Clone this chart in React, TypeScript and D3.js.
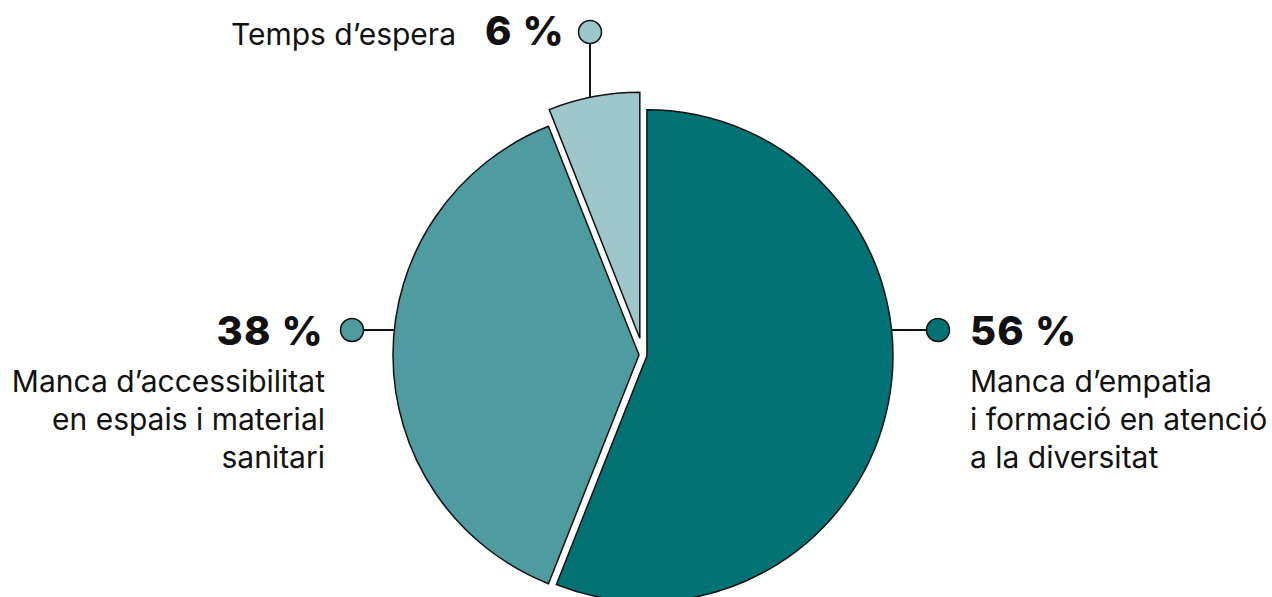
import React, { useEffect, useRef } from 'react';
import * as d3 from 'd3';

// Chart data
const categories = ['Manca d’empatia', 'Manca d’accessibilitat', 'Temps d’espera'];
const values = [56, 38, 6];
const labelLines = [
  ['Manca d’empatia', 'i formació en atenció', 'a la diversitat'],
  ['Manca d’accessibilitat', 'en espais i material', 'sanitari'],
  ['Temps d’espera'],
];
const colors = ['#027275', '#4f9ca0', '#9dc7ca'];
const explode = [4, 4, 17];

const W = 1272;
const H = 597;

const App: React.FC = () => {
  const svgRef = useRef<SVGSVGElement>(null);

  useEffect(() => {
    if (!svgRef.current) return;
    const svg = d3.select(svgRef.current);
    svg.selectAll('*').remove();

    const cx = 643;
    const cy = 355;
    const r = 246;

    const pie = d3.pie<number>().sort(null).value(d => d);
    const arcs = pie(values);
    const arc = d3.arc<d3.PieArcDatum<number>>().innerRadius(0).outerRadius(r);

    const g = svg.append('g').attr('transform', `translate(${cx},${cy})`);

    // offset of each slice along its bisector
    const offsets = arcs.map((a, i) => {
      const mid = (a.startAngle + a.endAngle) / 2;
      return [Math.sin(mid) * explode[i], -Math.cos(mid) * explode[i]];
    });

    g.selectAll('path.slice')
      .data(arcs)
      .join('path')
      .attr('class', 'slice')
      .attr('transform', (d, i) => `translate(${offsets[i][0]},${offsets[i][1]})`)
      .attr('d', arc)
      .attr('fill', (d, i) => colors[i])
      .attr('stroke', '#111')
      .attr('stroke-width', 1.5)
      .attr('stroke-linejoin', 'miter');

    const font = 'Inter, "Noto Sans", sans-serif';
    const numSize = 40;
    const numSpacing = 1.2;
    const txtSize = 30;
    const dotR = 11.5;

    // helper: x on slice circle at a given y (right or left side)
    const edgeX = (i: number, y: number, side: 1 | -1) => {
      const dy = y - cy - offsets[i][1];
      return cx + offsets[i][0] + side * Math.sqrt(r * r - dy * dy);
    };

    // 56 % - right
    const ly = 330;
    const rx0 = edgeX(0, ly, 1);
    const rDot = 938;
    svg.append('line')
      .attr('x1', rx0).attr('x2', rDot - dotR).attr('y1', ly).attr('y2', ly)
      .attr('stroke', '#111').attr('stroke-width', 2);
    svg.append('circle')
      .attr('cx', rDot).attr('cy', ly).attr('r', dotR)
      .attr('fill', colors[0]).attr('stroke', '#111').attr('stroke-width', 1.5);
    svg.append('text')
      .attr('x', 970).attr('y', 345)
      .attr('font-family', font).attr('font-weight', 800).attr('font-size', numSize)
      .attr('letter-spacing', numSpacing)
      .attr('fill', '#111')
      .text(`${values[0]} %`);
    svg.append('text')
      .attr('font-family', font).attr('font-size', txtSize).attr('fill', '#111')
      .selectAll('tspan')
      .data(labelLines[0])
      .join('tspan')
      .attr('x', 970)
      .attr('y', (d, i) => 392 + i * 38)
      .text(d => d);

    // 38 % - left
    const lx0 = edgeX(1, ly, -1);
    const lDot = 352;
    svg.append('line')
      .attr('x1', lDot + dotR).attr('x2', lx0).attr('y1', ly).attr('y2', ly)
      .attr('stroke', '#111').attr('stroke-width', 2);
    svg.append('circle')
      .attr('cx', lDot).attr('cy', ly).attr('r', dotR)
      .attr('fill', colors[1]).attr('stroke', '#111').attr('stroke-width', 1.5);
    svg.append('text')
      .attr('x', 324).attr('y', 345)
      .attr('text-anchor', 'end')
      .attr('font-family', font).attr('font-weight', 800).attr('font-size', numSize)
      .attr('letter-spacing', numSpacing)
      .attr('fill', '#111')
      .text(`${values[1]} %`);
    svg.append('text')
      .attr('font-family', font).attr('font-size', txtSize).attr('fill', '#111')
      .attr('text-anchor', 'end')
      .selectAll('tspan')
      .data(labelLines[1])
      .join('tspan')
      .attr('x', 325)
      .attr('y', (d, i) => 392 + i * 38)
      .text(d => d);

    // 6 % - top
    const tx = 590;
    const ty = 32;
    const dx = tx - cx - offsets[2][0];
    const topY = cy + offsets[2][1] - Math.sqrt(r * r - dx * dx);
    svg.append('line')
      .attr('x1', tx).attr('x2', tx).attr('y1', ty + dotR).attr('y2', topY)
      .attr('stroke', '#111').attr('stroke-width', 2);
    svg.append('circle')
      .attr('cx', tx).attr('cy', ty).attr('r', dotR)
      .attr('fill', colors[2]).attr('stroke', '#111').attr('stroke-width', 1.5);
    svg.append('text')
      .attr('x', 565).attr('y', 45)
      .attr('text-anchor', 'end')
      .attr('font-family', font).attr('font-weight', 800).attr('font-size', numSize)
      .attr('letter-spacing', numSpacing)
      .attr('fill', '#111')
      .text(`${values[2]} %`);
    svg.append('text')
      .attr('x', 456).attr('y', 45)
      .attr('text-anchor', 'end')
      .attr('font-family', font).attr('font-size', txtSize)
      .attr('fill', '#111')
      .text(labelLines[2][0]);
  }, []);

  return (
    <div style={{ position: 'absolute', left: 0, top: 0, width: W, height: H, background: '#fff' }}>
      <svg ref={svgRef} width={W} height={H} style={{ display: 'block' }} aria-label={categories.join(', ')} />
    </div>
  );
};

export default App;
